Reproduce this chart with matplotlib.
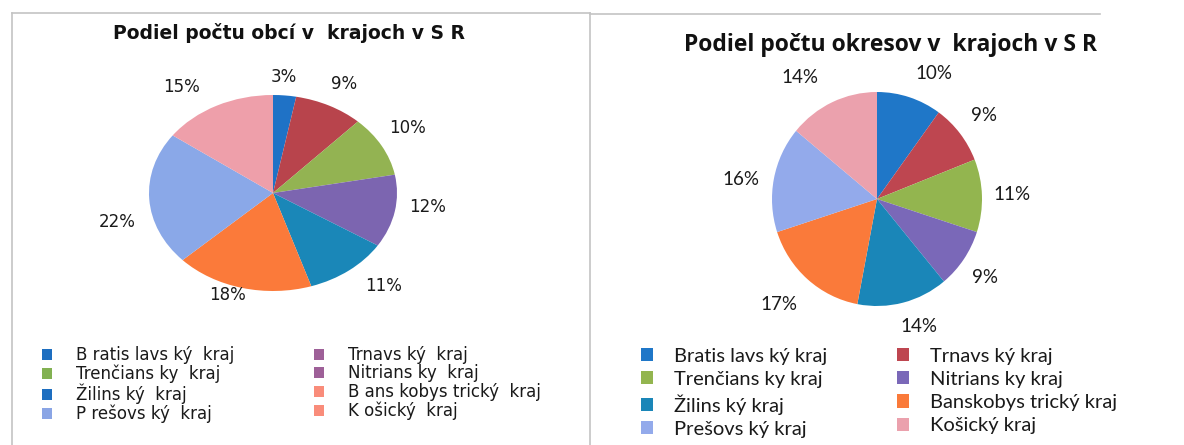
import matplotlib
matplotlib.use('Agg')
import matplotlib.pyplot as plt
import numpy as np
from matplotlib.patches import Patch
from matplotlib.lines import Line2D

W, H = 1184, 445

# data (percent shares)
kraje = ['Bratislavský kraj', 'Trnavský kraj', 'Trenčiansky kraj', 'Nitriansky kraj',
         'Žilinský kraj', 'Banskobystrický kraj', 'Prešovský kraj', 'Košický kraj']
obce_pct = [3, 9, 10, 12, 11, 18, 22, 15]
okresy_pct = [10, 9, 11, 9, 14, 17, 16, 14]

# legend labels as they appear in the scan
labels_left = ['B ratis lavs ký  kraj', 'Trnavs ký  kraj', 'Trenčians ky  kraj', 'Nitrians ky  kraj',
               'Žilins ký  kraj', 'B ans kobys trický  kraj', 'P rešovs ký  kraj', 'K ošický  kraj']
labels_right = ['Bratis lavs ký kraj', 'Trnavs ký kraj', 'Trenčians ky kraj', 'Nitrians ky kraj',
                'Žilins ký kraj', 'Banskobys trický kraj', 'Prešovs ký kraj', 'Košický kraj']

title_left = 'Podiel počtu obcí v  krajoch v S R'
title_right = 'Podiel počtu okresov v  krajoch v S R'

colors_left = ['#1f72c6', '#b8444c', '#93b352', '#7c65b0', '#1a87b8', '#fb7a3a', '#8aa8e8', '#ee9faa']
colors_right = ['#1f77c8', '#be4650', '#93b54f', '#7a68b8', '#1a86b8', '#fa7a3a', '#93aaeb', '#eba1ad']
# the left legend swatches came out in odd colours in the scan
legend_colors_left = ['#1d6ec0', '#9e6098', '#82b152', '#9e6098',
                      '#1d6ec0', '#f98c7a', '#8aa5e5', '#f98c7a']

# data-label placement (radius multipliers along x / y, Excel "best fit" look)
kx_left = [0.9, 1.26, 1.24, 1.27, 1.46, 1.49, 1.26, 1.63]
ky_left = [1.19, 1.25, 1.38, 0.76, 1.2, 1.07, 4.7, 1.21]
kx_right = [1.76, 1.29, 1.29, 1.24, 1.6, 1.41, 1.32, 1.72]
ky_right = [1.23, 1.27, 1.2, 1.3, 1.23, 1.31, 0.95, 1.25]


def fx(px):
    return px / W


def fy(py):
    return 1 - py / H


fig = plt.figure(figsize=(W / 100, H / 100), dpi=100)
fig.patch.set_facecolor('white')

# panel frames
grey = '#c4c4c4'
for xs, ys in [([12, 590], [13, 13]), ([12, 12], [13, 445]), ([590, 590], [13, 445]),
               ([590, 1100], [14, 14])]:
    fig.add_artist(Line2D([fx(x) for x in xs], [fy(y) for y in ys], color=grey, lw=1.2))


def draw_pie(cx, cy, rx, ry, values, colors, font, fsize, kx, ky):
    ax = fig.add_axes([fx(cx - rx), fy(cy + ry), 2 * rx / W, 2 * ry / H])
    wedges, _, autotexts = ax.pie(values, colors=colors, startangle=90, counterclock=False,
                                  autopct=lambda p: f'{p:.0f}%',
                                  wedgeprops=dict(linewidth=0),
                                  textprops=dict(fontfamily=font, fontsize=fsize, color='#1a1a1a'))
    for w, t, a, b in zip(wedges, autotexts, kx, ky):
        ang = np.deg2rad((w.theta1 + w.theta2) / 2)
        t.set_position((a * np.cos(ang), b * np.sin(ang)))
        t.set_ha('center')
        t.set_va('center')
    ax.set_aspect('auto')
    ax.set_xlim(-1, 1)
    ax.set_ylim(-1, 1)
    return ax


draw_pie(273, 193, 124, 98, obce_pct, colors_left, 'DejaVu Sans', 12, kx_left, ky_left)
draw_pie(877, 199, 105, 107, okresy_pct, colors_right, 'Lato', 13.5, kx_right, ky_right)

fig.text(fx(289), fy(33), title_left, ha='center', va='center',
         fontfamily='DejaVu Sans', fontweight='bold', fontsize=13.5, color='#111111')
fig.text(fx(890), fy(45), title_right, ha='center', va='center',
         fontfamily='Open Sans', fontweight='bold', fontsize=16.5, color='#111111')


def legend_col(idx, labels, colors, x, y, font, size, spacing, pad):
    handles = [Patch(facecolor=colors[i], label=labels[i]) for i in idx]
    leg = fig.legend(handles=handles, ncol=1, loc='upper left', bbox_to_anchor=(fx(x), fy(y)),
                     frameon=False, borderpad=0, borderaxespad=0,
                     prop=dict(family=font, size=size), labelspacing=spacing,
                     handlelength=0.62, handleheight=0.62, handletextpad=pad)
    for t in leg.get_texts():
        t.set_color('#1a1a1a')
    return leg


# two columns, filled row by row
legend_col([0, 2, 4, 6], labels_left, legend_colors_left, 42, 346, 'DejaVu Sans', 12, 0.03, 1.4)
legend_col([1, 3, 5, 7], labels_left, legend_colors_left, 314, 346, 'DejaVu Sans', 12, 0.03, 1.4)
legend_col([0, 2, 4, 6], labels_right, colors_right, 641, 348, 'Lato', 14.5, 0.3, 1.0)
legend_col([1, 3, 5, 7], labels_right, colors_right, 897, 348, 'Lato', 14.5, 0.3, 1.0)

plt.savefig('out.png', dpi=100)
plt.close()
